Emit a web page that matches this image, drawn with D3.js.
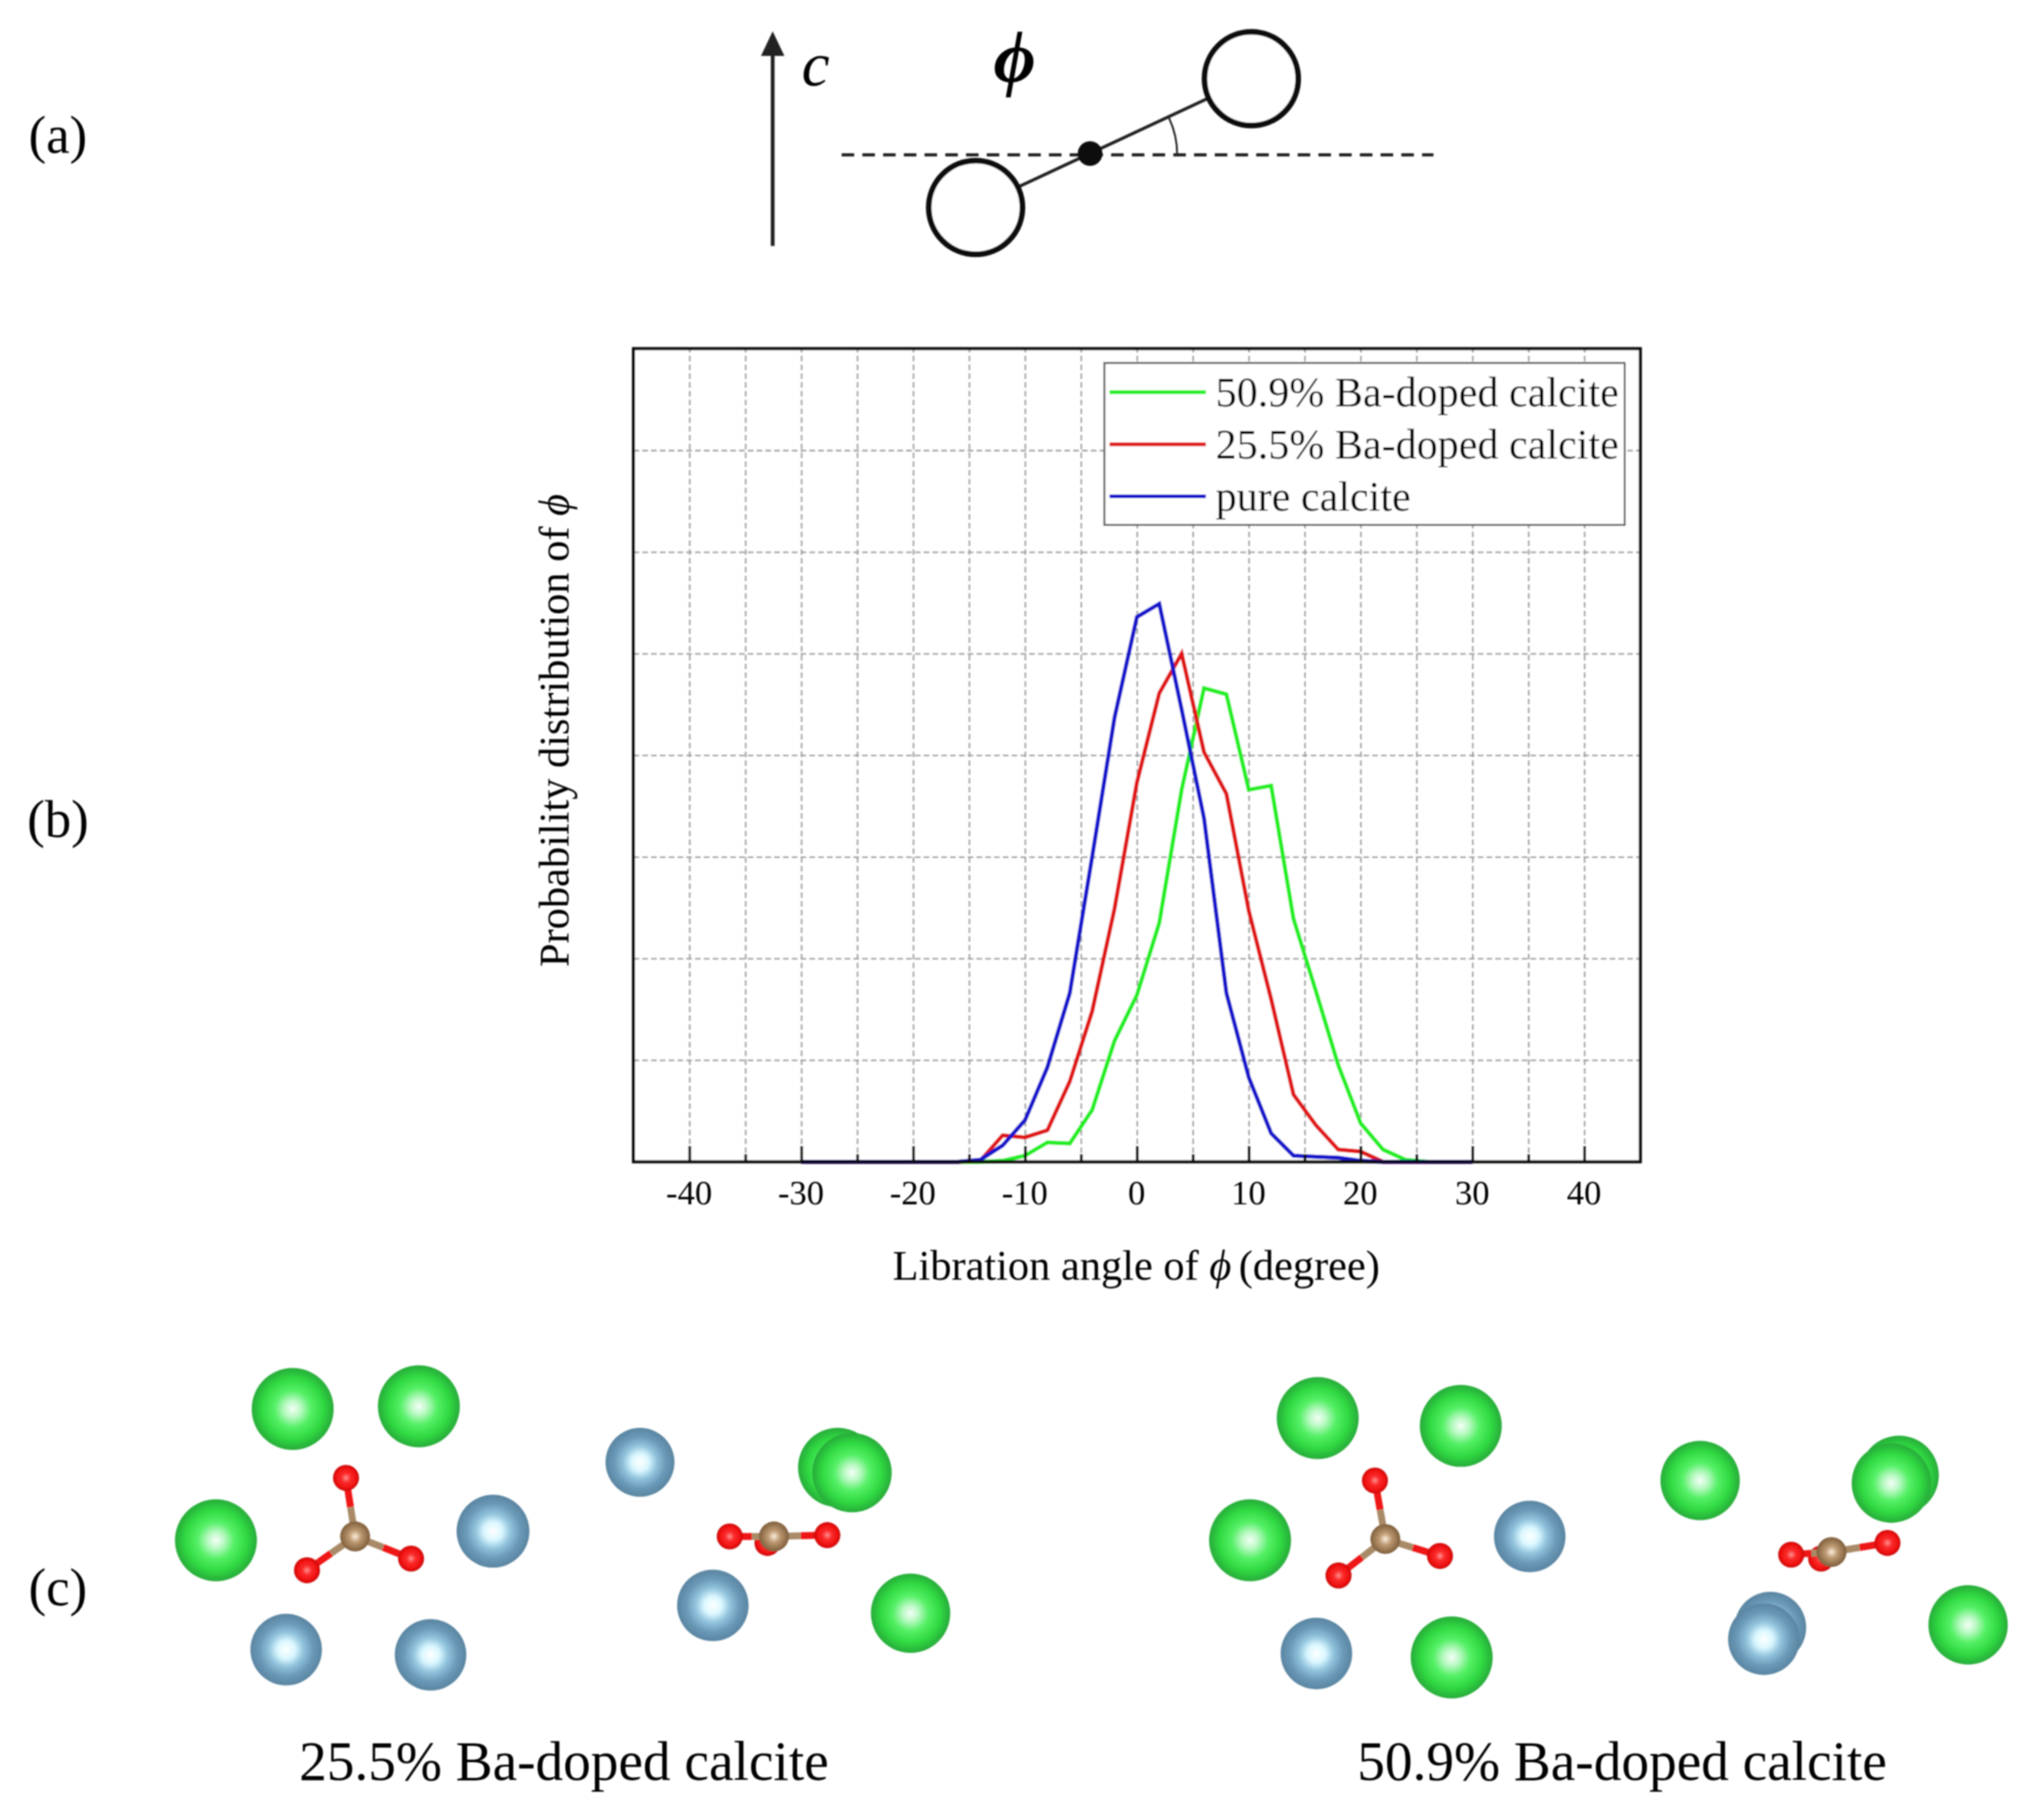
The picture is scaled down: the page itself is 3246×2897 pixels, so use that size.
<!DOCTYPE html>
<html><head><meta charset="utf-8">
<script src="https://cdn.jsdelivr.net/npm/d3@7"></script>
<style>html,body{margin:0;padding:0;background:#fff}svg{display:block}text{font-family:"Liberation Serif",serif;fill:#000}</style>
</head><body><div id="c"></div>
<script>
// ---- data ----
const angles = [-30,-28,-26,-24,-22,-20,-18,-16,-14,-12,-10,-8,-6,-4,-2,0,2,4,6,8,10,12,14,16,18,20,22,24,26,28,30];
const green50 = [0,0,0,0,0,0,0,0,0,0.01,0.06,0.19,0.18,0.51,1.19,1.64,2.35,3.66,4.66,4.6,3.66,3.7,2.39,1.68,0.95,0.38,0.12,0.02,0,0,0];
const red25   = [0,0,0,0,0,0,0,0,0.01,0.26,0.24,0.31,0.79,1.48,2.49,3.73,4.61,5.0,4.03,3.62,2.47,1.6,0.66,0.36,0.12,0.10,0,0,0,0,0];
const bluePure= [0,0,0,0,0,0,0,0,0.02,0.16,0.41,0.93,1.66,3.0,4.37,5.36,5.49,4.45,3.38,1.66,0.83,0.28,0.06,0.05,0.04,0.01,0,0,0,0,0];
const seriesNames = ["50.9% Ba-doped calcite","25.5% Ba-doped calcite","pure calcite"];
const seriesColors = ["#22ee22","#e01818","#1414cc"];
const xMajor = [-40,-30,-20,-10,0,10,20,30,40];
const xMinor = [-35,-25,-15,-5,5,15,25,35];
const yGrid = [1,2,3,4,5,6,7];
const panelLetters = ["(a)","(b)","(c)"];
const captions = ["25.5% Ba-doped calcite","50.9% Ba-doped calcite"];
// atoms of the two structures: [x, y, r] on the page's reduced scale
const greenBalls = [[225,1083,31.5],[322,1081,31.5],[166,1184,31.5],[644,1128,30.5],[655,1132,30.5],[700,1240,30.5],
  [1013,1090,31.5],[1123,1096,31.5],[961,1184,31.5],[1116,1274,31.5],[1307,1138,30.5],[1460,1134,30.5],[1454,1140,30.5],[1513,1249,30.5]];
const blueBalls = [[379,1177,28],[220,1268,27.5],[331,1272,27.5],[492,1124,26.5],[548,1234,27.5],
  [1176,1181,27.5],[1012,1271,27.5],[1361,1251,27.5],[1356,1260,27.5]];
const molecules = [
  {c:[273,1181],o:[[266,1136],[236,1207],[316,1198]]},
  {c:[595,1181],o:[[590,1186],[561,1181],[636,1180]]},
  {c:[1065,1183],o:[[1057,1138],[1029,1211],[1107,1196]]},
  {c:[1408,1193],o:[[1400,1198],[1377,1195],[1451,1186]]}
];

// ---- scales ----
const W = 3246, H = 2897;
const page = d3.scaleLinear().domain([0,1567.5]).range([0,W]);
const frame = {l:page(487), r:page(1261), t:page(268), b:page(893)};
const x = d3.scaleLinear().domain([-45,45]).range([frame.l,frame.r]);
const y = d3.scaleLinear().domain([0,8]).range([frame.b,frame.t]);

const svg = d3.select("#c").append("svg").attr("width",W).attr("height",H).attr("viewBox",`0 0 ${W} ${H}`);
const defs = svg.append("defs");
defs.append("filter").attr("id","soft").append("feGaussianBlur").attr("stdDeviation",1);
function grad(id,stops){
  const g = defs.append("radialGradient").attr("id",id).attr("cx","50%").attr("cy","50%").attr("r","50%");
  stops.forEach(([o,c])=>g.append("stop").attr("offset",o).attr("stop-color",c));
}
grad("gGreen",[[0,"#f4fff6"],[0.2,"#baf9c4"],[0.45,"#55f066"],[0.75,"#30d942"],[1,"#28ab3a"]]);
grad("gBlue",[[0,"#ffffff"],[0.25,"#daf7ff"],[0.48,"#92c4dd"],[0.75,"#6a99b7"],[1,"#5a85a1"]]);
grad("gRed",[[0,"#ff9090"],[0.35,"#fb2c2c"],[0.8,"#ee1010"],[1,"#c40808"]]);
grad("gBrown",[[0,"#fbeedd"],[0.4,"#bd9a72"],[1,"#7f5e3c"]]);

const root = svg.append("g").attr("filter","url(#soft)");

// ---- panel letters ----
root.selectAll("text.letter").data(panelLetters).join("text").attr("class","letter")
  .attr("x",page(44.5)).attr("y",(d,i)=>page([117.5,643,1234][i])).attr("text-anchor","middle")
  .attr("font-size",84).text(d=>d);

// ---- (a) schematic ----
const a = root.append("g");
const arrowX = page(594), dotX = page(838), dotY = page(118);
a.append("line").attr("x1",arrowX).attr("x2",arrowX).attr("y1",page(189)).attr("y2",page(40)).attr("stroke","#222").attr("stroke-width",6);
a.append("path").attr("d",d3.line()([[arrowX,page(24)],[arrowX-page(9),page(43)],[arrowX+page(9),page(43)]])).attr("fill","#222");
a.append("text").attr("x",page(627)).attr("y",page(65.5)).attr("text-anchor","middle").attr("font-style","italic").attr("font-size",100).attr("fill","#222").text("c");
a.append("text").attr("x",page(780)).attr("y",page(63)).attr("text-anchor","middle").attr("font-style","italic").attr("font-weight","bold").attr("font-size",116).text("\u03D5");
a.append("line").attr("x1",page(647)).attr("x2",page(1102)).attr("y1",page(119)).attr("y2",page(119)).attr("stroke","#222").attr("stroke-width",5).attr("stroke-dasharray","20 13");
a.append("line").attr("x1",page(750)).attr("y1",page(159)).attr("x2",page(962)).attr("y2",page(60)).attr("stroke","#222").attr("stroke-width",5);
a.append("path").attr("transform",`translate(${dotX},${page(119)})`)
  .attr("d",d3.arc()({innerRadius:page(67),outerRadius:page(67),startAngle:Math.PI*65/180,endAngle:Math.PI/2}))
  .attr("fill","none").attr("stroke","#222").attr("stroke-width",3);
a.selectAll("circle.bead").data([[750,159.5],[962,60.5]]).join("circle").attr("class","bead")
  .attr("cx",d=>page(d[0])).attr("cy",d=>page(d[1])).attr("r",page(36)).attr("fill","#fff").attr("stroke","#111").attr("stroke-width",9);
a.append("circle").attr("cx",dotX).attr("cy",dotY).attr("r",page(9.5)).attr("fill","#111");

// ---- (b) chart ----
const chart = root.append("g");
chart.append("rect").attr("x",frame.l).attr("y",frame.t).attr("width",frame.r-frame.l).attr("height",frame.b-frame.t).attr("fill","#fff");
const gridStyle = s => s.attr("stroke","#a2a2a2").attr("stroke-width",2.8).attr("stroke-dasharray","9 5");
const gx = chart.append("g").attr("transform",`translate(0,${frame.b})`)
  .call(d3.axisBottom(x).tickValues([...xMajor,...xMinor]).tickSize(-(frame.b-frame.t)).tickFormat(""));
gx.select(".domain").remove(); gridStyle(gx.selectAll("line"));
const gy = chart.append("g").attr("transform",`translate(${frame.l},0)`)
  .call(d3.axisLeft(y).tickValues(yGrid).tickSize(-(frame.r-frame.l)).tickFormat(""));
gy.select(".domain").remove(); gridStyle(gy.selectAll("line"));

// curves
const line = d3.line().x((d,i)=>x(angles[i])).y(d=>y(d));
chart.selectAll("path.curve").data([green50,red25,bluePure]).join("path").attr("class","curve")
  .attr("d",line).attr("fill","none").attr("stroke",(d,i)=>seriesColors[i]).attr("stroke-width",6.5).attr("stroke-linejoin","miter");

// ticks & labels
const major = chart.append("g").attr("transform",`translate(0,${frame.b})`)
  .call(d3.axisBottom(x).tickValues(xMajor).tickSize(-25).tickFormat(d=>d));
major.select(".domain").remove();
major.selectAll("line").attr("stroke","#111").attr("stroke-width",4.5);
major.selectAll("text").attr("y",0).attr("dy",null).attr("transform","translate(-1,68)").attr("font-size",55).attr("font-family","Liberation Serif").attr("fill","#000");
const minor = chart.append("g").attr("transform",`translate(0,${frame.b})`)
  .call(d3.axisBottom(x).tickValues(xMinor).tickSize(-12).tickFormat(""));
minor.select(".domain").remove();
minor.selectAll("line").attr("stroke","#111").attr("stroke-width",4.5);

chart.append("rect").attr("x",frame.l).attr("y",frame.t).attr("width",frame.r-frame.l).attr("height",frame.b-frame.t)
  .attr("fill","none").attr("stroke","#111").attr("stroke-width",5);

const xlab = chart.append("text").attr("x",page(873.5)).attr("y",page(983.5)).attr("text-anchor","middle").attr("font-size",67.5);
xlab.append("tspan").text("Libration angle of ");
xlab.append("tspan").attr("font-style","italic").text("\u03D5");
xlab.append("tspan").attr("dx",-5).text(" (degree)");
const ylab = chart.append("text").attr("transform",`translate(${page(437)},${page(561.5)}) rotate(-90)`).attr("text-anchor","middle").attr("font-size",67.5);
ylab.append("tspan").text("Probability distribution of ");
ylab.append("tspan").attr("font-style","italic").text("\u03D5");

// legend
const leg = chart.append("g");
leg.append("rect").attr("x",page(849)).attr("y",page(279)).attr("width",page(400)).attr("height",page(124.5)).attr("fill","#fff").attr("stroke","#555").attr("stroke-width",3);
const rowY = [301.5,341.5,381.5];
leg.selectAll("line").data(seriesNames).join("line")
  .attr("x1",page(853)).attr("x2",page(927)).attr("y1",(d,i)=>page(rowY[i])).attr("y2",(d,i)=>page(rowY[i]))
  .attr("stroke",(d,i)=>seriesColors[i]).attr("stroke-width",6);
leg.selectAll("text").data(seriesNames).join("text")
  .attr("x",page(934.5)).attr("y",(d,i)=>page(rowY[i]+11)).attr("font-size",67).text(d=>d);

// ---- (c) structures ----
const s = root.append("g");
function balls(data,fill){
  return data.forEach(d=>s.append("circle").attr("cx",page(d[0])).attr("cy",page(d[1])).attr("r",page(d[2])).attr("fill",`url(#${fill})`));
}
balls(greenBalls,"gGreen"); balls(blueBalls,"gBlue");
molecules.forEach(m=>{
  m.o.forEach(o=>{
    const mid=[(o[0]+m.c[0])/2,(o[1]+m.c[1])/2];
    s.append("line").attr("x1",page(o[0])).attr("y1",page(o[1])).attr("x2",page(mid[0])).attr("y2",page(mid[1])).attr("stroke","#ee1515").attr("stroke-width",11);
    s.append("line").attr("x1",page(mid[0])).attr("y1",page(mid[1])).attr("x2",page(m.c[0])).attr("y2",page(m.c[1])).attr("stroke","#a98a68").attr("stroke-width",11);
    s.append("circle").attr("cx",page(o[0])).attr("cy",page(o[1])).attr("r",page(10)).attr("fill","url(#gRed)");
  });
  s.append("circle").attr("cx",page(m.c[0])).attr("cy",page(m.c[1])).attr("r",page(11.5)).attr("fill","url(#gBrown)");
});
s.selectAll("text").data(captions).join("text").attr("x",(d,i)=>page([433.5,1247][i])).attr("y",page(1368))
  .attr("text-anchor","middle").attr("font-size",88).text(d=>d);
</script></body></html>
